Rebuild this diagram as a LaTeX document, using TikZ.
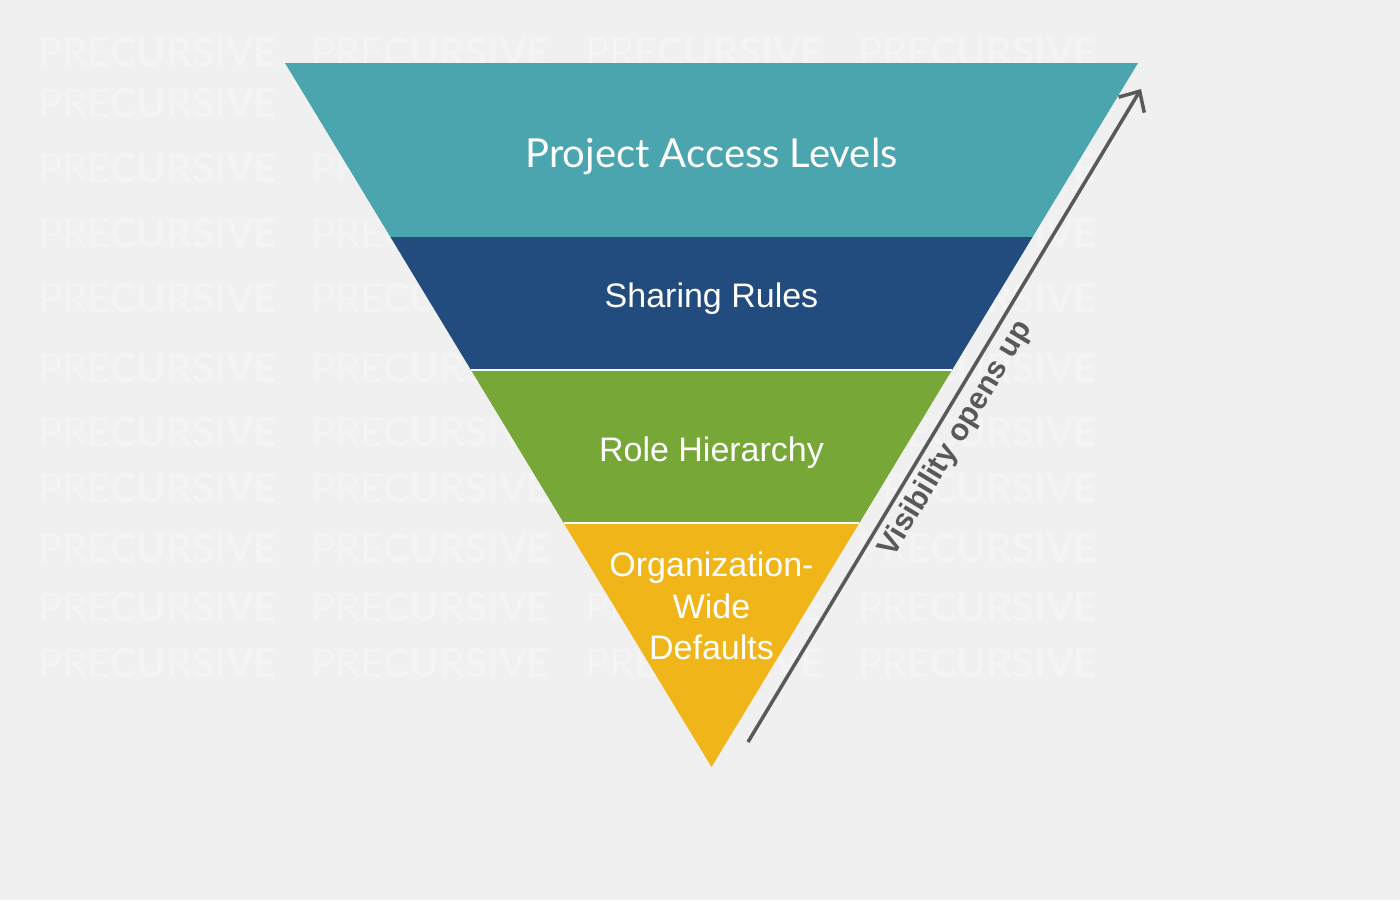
\documentclass[tikz,border=0pt]{standalone}
\usepackage{fontspec}
\setmainfont{Liberation Sans}
\newfontfamily\latofont{Lato}
\usetikzlibrary{calc,arrows.meta}
\definecolor{bg}{HTML}{F0F0F0}
\definecolor{wmcol}{HTML}{F4F4F4}
\definecolor{tealc}{HTML}{4BA5AF}
\definecolor{navyc}{HTML}{234C7E}
\definecolor{greenc}{HTML}{77A737}
\definecolor{yellowc}{HTML}{F0B619}
\definecolor{arrowc}{HTML}{595959}
\tikzset{
  wm/.style={anchor=west, text=wmcol, inner sep=0pt, font=\latofont\fontsize{40}{40}\selectfont},
  layertext/.style={text=white, inner sep=0pt, font=\fontsize{34}{41.5}\selectfont},
  gapline/.style={white, line width=2pt},
  visarrow/.style={draw=arrowc, line width=3.5pt, -{Straight Barb[length=16pt,width=30pt,line width=3.5pt]}},
  vislabel/.style={text=arrowc, inner sep=0pt, font=\bfseries\fontsize{30.5}{30.5}\selectfont}
}
\begin{document}
\begin{tikzpicture}[x=1pt,y=-1pt]
\fill[bg] (0,0) rectangle (1400,900);
\useasboundingbox (0,0) rectangle (1400,900);
% watermark
\foreach \yy [count=\i] in {52,103,168,233,298,368,432,488,548,607,663}{
  \foreach \xx [count=\j] in {38,311,585,858}{
    \node[wm] (wm-\i-\j) at (\xx,\yy) {PRE\textbf{CURSIVE}};
  }
}
% funnel geometry
\coordinate (TL) at (285,63);
\coordinate (TR) at (1138,63);
\coordinate (AP) at (711.5,767);
\coordinate (L1) at ($(TL)!0.2472!(AP)$);
\coordinate (R1) at ($(TR)!0.2472!(AP)$);
\coordinate (L2) at ($(TL)!0.4361!(AP)$);
\coordinate (R2) at ($(TR)!0.4361!(AP)$);
\coordinate (L3) at ($(TL)!0.6534!(AP)$);
\coordinate (R3) at ($(TR)!0.6534!(AP)$);
\fill[tealc] (TL) -- (TR) -- (R1) -- (L1) -- cycle;
\fill[navyc] (L1) -- (R1) -- (R2) -- (L2) -- cycle;
\fill[greenc] (L2) -- (R2) -- (R3) -- (L3) -- cycle;
\fill[yellowc] (L3) -- (R3) -- (AP) -- cycle;
\draw[gapline] (L2) -- (R2);
\draw[gapline] (L3) -- (R3);
% labels
\node[text=white, inner sep=0pt, anchor=base, font=\latofont\fontsize{40}{40}\selectfont] (pal) at (711.5,167) {Project Access Levels};
\node[layertext, anchor=base] (sr) at (711.5,307) {Sharing Rules};
\node[layertext, anchor=base] (rh) at (711.5,461) {Role Hierarchy};
\node[layertext, align=center] (owd) at (711.5,606) {Organization-\\Wide\\Defaults};
% arrow
\coordinate (As) at (748,742);
\coordinate (Ae) at (1141,89);
\draw[visarrow] (As) -- (Ae);
\node[vislabel, rotate=58.9] (vis) at (956,439) {Visibility opens up};
\end{tikzpicture}
\end{document}
